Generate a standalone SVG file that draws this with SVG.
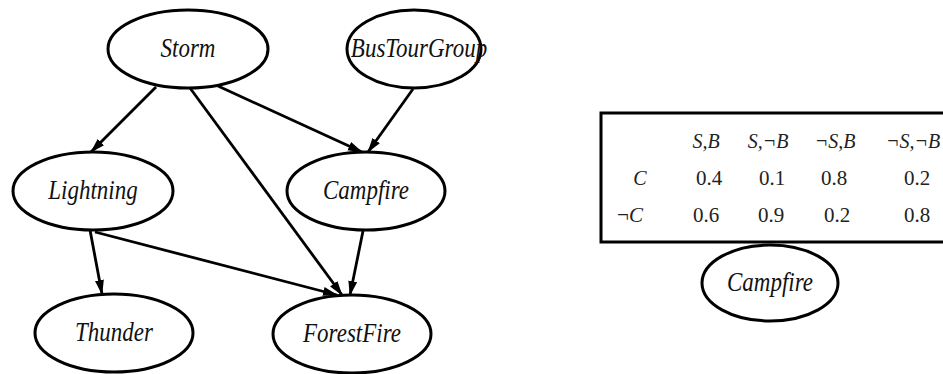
<svg xmlns="http://www.w3.org/2000/svg" width="943" height="374" viewBox="0 0 943 374">
  <defs>
    <marker id="arrow" markerUnits="userSpaceOnUse" markerWidth="15" markerHeight="10" refX="14" refY="4.5" orient="auto">
      <path d="M0,0 L15,4.5 L0,9 Z" fill="#000"/>
    </marker>
    <style>
      .node ellipse { fill: #fff; stroke: #000; stroke-width: 3; }
      .label { font-family: "Liberation Serif", "Times New Roman", serif; font-style: italic; font-size: 23px; text-anchor: middle; fill: #111; }
      .edge { stroke: #000; stroke-width: 2.8; fill: none; marker-end: url(#arrow); }
      .cpt { font-family: "Liberation Serif", "Times New Roman", serif; font-size: 21px; text-anchor: middle; fill: #222; }
      .cpt-h { font-style: italic; font-size: 20px; }
    </style>
  </defs>
  <rect width="943" height="374" fill="#fff"/>

  <!-- connectors -->
  <g id="edges">
    <line class="edge" x1="156" y1="87" x2="91" y2="152"/>
    <line class="edge" x1="190" y1="88" x2="342" y2="295"/>
    <line class="edge" x1="218" y1="86" x2="362" y2="152"/>
    <line class="edge" x1="413" y1="89" x2="368" y2="152"/>
    <line class="edge" x1="90" y1="230" x2="102" y2="294"/>
    <line class="edge" x1="95" y1="232" x2="337" y2="295"/>
    <line class="edge" x1="363" y1="231" x2="350" y2="295"/>
  </g>

  <!-- nodes (labels are drawn slightly tall, like the original typesetting) -->
  <g id="storm" class="node">
    <ellipse cx="188" cy="49" rx="80" ry="39"/>
    <text class="label" transform="translate(188,57) scale(1,1.2)">Storm</text>
  </g>
  <g id="bustourgroup" class="node">
    <ellipse cx="414" cy="49" rx="67" ry="39"/>
    <text class="label" transform="translate(419,57) scale(1,1.2)">BusTourGroup</text>
  </g>
  <g id="lightning" class="node">
    <ellipse cx="93" cy="191" rx="80" ry="39"/>
    <text class="label" transform="translate(93,199) scale(1,1.2)">Lightning</text>
  </g>
  <g id="campfire" class="node">
    <ellipse cx="366" cy="191" rx="79" ry="39"/>
    <text class="label" transform="translate(366,199) scale(1,1.2)">Campfire</text>
  </g>
  <g id="thunder" class="node">
    <ellipse cx="114" cy="333" rx="79" ry="39"/>
    <text class="label" transform="translate(114,341) scale(1,1.2)">Thunder</text>
  </g>
  <g id="forestfire" class="node">
    <ellipse cx="352" cy="334" rx="79" ry="39"/>
    <text class="label" transform="translate(352,342) scale(1,1.2)">ForestFire</text>
  </g>

  <!-- conditional probability table for Campfire -->
  <g id="cpt">
    <rect x="601" y="113" width="360" height="129" fill="#fff" stroke="#000" stroke-width="3"/>
    <text class="cpt cpt-h" x="706" y="148">S,B</text>
    <text class="cpt cpt-h" x="768" y="148">S,¬B</text>
    <text class="cpt cpt-h" x="835" y="148">¬S,B</text>
    <text class="cpt cpt-h" x="913" y="148">¬S,¬B</text>
    <text class="cpt cpt-h" x="640" y="185">C</text>
    <text class="cpt" x="709" y="185">0.4</text>
    <text class="cpt" x="772" y="185">0.1</text>
    <text class="cpt" x="834" y="185">0.8</text>
    <text class="cpt" x="917" y="185">0.2</text>
    <text class="cpt" x="630" y="222">¬<tspan font-style="italic">C</tspan></text>
    <text class="cpt" x="706" y="222">0.6</text>
    <text class="cpt" x="771" y="222">0.9</text>
    <text class="cpt" x="837" y="222">0.2</text>
    <text class="cpt" x="917" y="222">0.8</text>
  </g>
  <g id="campfire-cpt" class="node">
    <ellipse cx="770" cy="283" rx="68" ry="38"/>
    <text class="label" transform="translate(770,291) scale(1,1.2)">Campfire</text>
  </g>
</svg>
